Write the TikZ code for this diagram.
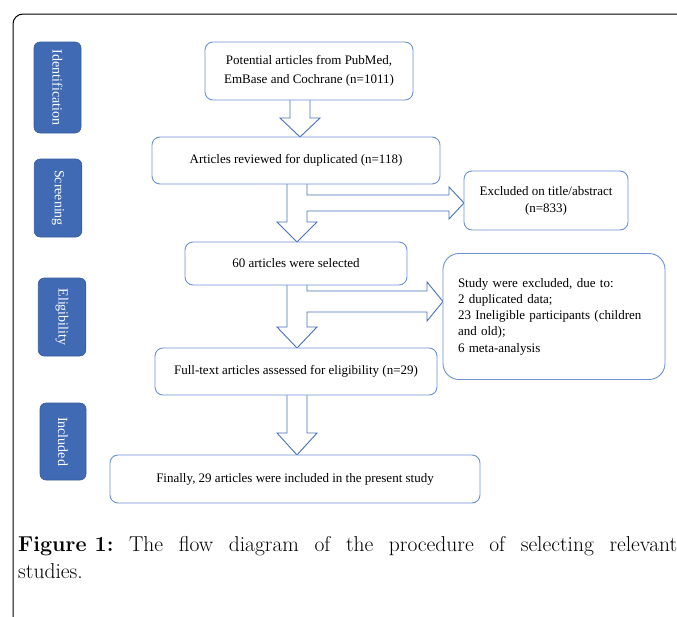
\documentclass[tikz,border=0pt]{standalone}
\usepackage{fontspec}
\setmainfont{Liberation Serif}
\newfontfamily\capfont{Latin Modern Roman}
\definecolor{sidebl}{RGB}{64,106,180}
\definecolor{boxbl}{RGB}{110,145,210}
\definecolor{arrbl}{RGB}{72,112,184}
\tikzset{
  side/.style={draw=sidebl!85!black, line width=0.6pt, fill=sidebl, rounded corners=6pt, text=white,
    font=\fontsize{14}{16}\selectfont, inner sep=0pt, rotate=-90},
  flowbox/.style={draw=boxbl, line width=0.9pt, fill=white, rounded corners=8pt, align=center,
    font=\fontsize{13}{17}\selectfont, inner sep=0pt},
  blockarrow/.style={draw=arrbl, line width=0.9pt, fill=white, line join=miter}
}
\begin{document}
\begin{tikzpicture}[x=1pt,y=-1pt]
\useasboundingbox (0,0) rectangle (677,616);
% frame
\draw[line width=1pt, rounded corners=10pt] (13,620) -- (13,14) -- (680,14);
% side labels
\node[side, minimum width=91pt, minimum height=47pt] (ident) at (57.5,87.5) {Identification};
\node[side, minimum width=78pt, minimum height=47.5pt] (screen) at (58,198) {Screening};
\node[side, minimum width=78pt, minimum height=47.5pt] (elig) at (62,317) {Eligibility};
\node[side, minimum width=77pt, minimum height=46pt] (incl) at (63,441.5) {Included};
% block arrows
\draw[blockarrow] (290,100) -- (290,118) -- (280,118) -- (300,137) -- (320,118) -- (310,118) -- (310,100);
\draw[blockarrow] (287,184) -- (287,222) -- (277,222) -- (297,242) -- (317,222) -- (307,222) -- (307,211)
   -- (449,211) -- (449,219) -- (464,203) -- (449,187) -- (449,195) -- (307,195) -- (307,184);
\draw[blockarrow] (287,285) -- (287,327) -- (277,327) -- (297,348) -- (317,327) -- (307,327) -- (307,312)
   -- (427,312) -- (427,321) -- (443,301.5) -- (427,282) -- (427,291) -- (307,291) -- (307,285);
\draw[blockarrow] (287,395) -- (287,433) -- (277,433) -- (297,455) -- (317,433) -- (307,433) -- (307,395);
% boxes
\node[flowbox, minimum width=208pt, minimum height=58pt, font=\fontsize{13}{19}\selectfont] (b1) at (309,71)
  {Potential articles from PubMed,\\EmBase and Cochrane (n=1011)};
\node[flowbox, minimum width=288pt, minimum height=47pt] (b2) at (296,160.5)
  {Articles reviewed for duplicated (n=118)};
\node[flowbox, minimum width=164pt, minimum height=59pt] (b3) at (546,200.5)
  {Excluded on title/abstract\\(n=833)};
\node[flowbox, minimum width=222pt, minimum height=43pt] (b4) at (296,263.5)
  {60 articles were selected};
\node[flowbox, rounded corners=16pt, minimum width=222pt, minimum height=126pt, align=left,
  text width=192pt, font=\fontsize{13}{16.25}\selectfont] (b5) at (554,316.5)
  {Study were excluded, due to:\\2 duplicated data;\\23 Ineligible participants (children\\and old);\\6 meta-analysis};
\node[flowbox, minimum width=282pt, minimum height=47pt] (b6) at (296,371.5)
  {Full-text articles assessed for eligibility (n=29)};
\node[flowbox, minimum width=370pt, minimum height=48pt] (b7) at (295,479)
  {Finally, 29 articles were included in the present study};
% caption
\node[anchor=north west, inner sep=0pt, text width=659pt, align=justify,
  font=\capfont\fontsize{21.5}{27}\selectfont] (cap) at (18,536)
  {\mbox{\textbf{Figure 1:}} The flow diagram of the procedure of selecting relevant\linebreak studies.};
\end{tikzpicture}
\end{document}
